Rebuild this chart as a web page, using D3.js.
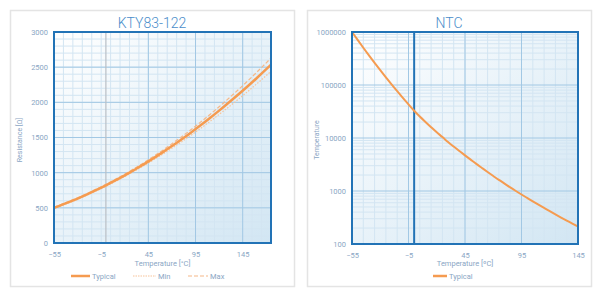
<!DOCTYPE html>
<html lang="en">
<head>
<meta charset="UTF-8">
<title>KTY83-122 / NTC</title>
<style>
  body { margin: 0; background: #fff; }
  svg text { font-family: Roboto, "Open Sans", sans-serif; }
</style>
</head>
<body>
<svg id="chart" width="600" height="296"></svg>
<script src="https://cdn.jsdelivr.net/npm/d3@7"></script>
<script>
// KTY83-122 resistance vs temperature
var ktyTemps = [-55, -50, -40, -30, -20, -10, 0, 10, 20, 25, 30, 40, 50, 60, 70, 80, 90, 100, 110, 120, 125, 130, 140, 150, 160, 170, 175];
var ktyTypical = [500, 525, 577, 632, 691, 754, 820, 889, 962, 1000, 1039, 1118, 1202, 1288, 1379, 1472, 1569, 1670, 1774, 1882, 1937, 1993, 2107, 2225, 2346, 2471, 2535];
var ktyMin = [490, 515, 567, 621, 680, 742, 806, 874, 945, 982, 1020, 1097, 1178, 1261, 1348, 1437, 1530, 1626, 1725, 1828, 1880, 1932, 2040, 2150, 2264, 2381, 2440];
var ktyMax = [510, 535, 587, 643, 703, 767, 834, 905, 980, 1019, 1059, 1140, 1227, 1316, 1411, 1508, 1609, 1715, 1824, 1937, 1995, 2055, 2175, 2300, 2429, 2562, 2630];
var ktyYTicks = [0, 500, 1000, 1500, 2000, 2500, 3000];
var ktyXMajor = [45, 95, 145];

// NTC resistance vs temperature (log scale)
var ntcTemps = [-55, -50, -45, -40, -35, -30, -25, -20, -15, -10, -5, 0, 5, 10, 15, 20, 25, 30, 35, 40, 45, 50, 55, 60, 65, 70, 75, 80, 85, 90, 95, 100, 105, 110, 115, 120, 125, 130, 135, 140, 145];
var ntcTypical = [1000000, 708000, 505000, 362000, 262000, 191000, 140000, 103000, 76600, 57300, 43200, 32700, 25400, 20100, 16000, 12800, 10400, 8410, 6890, 5680, 4710, 3910, 3250, 2720, 2280, 1920, 1620, 1380, 1170, 1000, 859, 740, 638, 552, 479, 416, 362, 316, 277, 243, 213];
var ntcYTicks = [100, 1000, 10000, 100000, 1000000];
var ntcXMajor = [-5, 45, 95];

var xTicks = [-55, -5, 45, 95, 145];

var orange = "#f59b50",
    frameBlue = "#2273b6",
    minorGrid = "#d3e5f2",
    majorGrid = "#a2c8e4",
    tickColor = "#8aa6c4",
    titleColor = "#4a8dca";

var svg = d3.select("#chart");
var defs = svg.append("defs");
var grad = defs.append("linearGradient")
    .attr("id", "plotbg")
    .attr("x1", 0).attr("y1", 0).attr("x2", 1).attr("y2", 1);
grad.append("stop").attr("offset", "0%").attr("stop-color", "#ffffff");
grad.append("stop").attr("offset", "100%").attr("stop-color", "#d2e6f3");

function panel(opt) {
    // card
    svg.append("rect")
        .attr("x", opt.card[0] + 0.5).attr("y", opt.card[1] + 0.5)
        .attr("width", opt.card[2]).attr("height", opt.card[3])
        .attr("fill", "#fff").attr("stroke", "#e4e4e4").attr("stroke-width", 1.5);

    svg.append("text")
        .attr("x", opt.card[0] + opt.card[2] / 2).attr("y", 28)
        .attr("text-anchor", "middle")
        .attr("fill", titleColor)
        .attr("font-size", 14)
        .attr("font-weight", 300)
        .text(opt.title);

    var m = opt.plot;
    var x = d3.scaleLinear().domain(opt.xDomain).range([m.left, m.right]);
    var y = opt.y.range([m.bottom, m.top]);

    var g = svg.append("g");
    g.append("rect")
        .attr("x", m.left).attr("y", m.top)
        .attr("width", m.right - m.left).attr("height", m.bottom - m.top)
        .attr("fill", "url(#plotbg)");

    // minor grid
    g.selectAll(".vmin").data(opt.xMinor).enter().append("line")
        .attr("x1", function(d) { return x(d); }).attr("x2", function(d) { return x(d); })
        .attr("y1", m.top).attr("y2", m.bottom)
        .attr("stroke", minorGrid).attr("stroke-width", 1);
    g.selectAll(".hmin").data(opt.yMinor).enter().append("line")
        .attr("y1", function(d) { return y(d); }).attr("y2", function(d) { return y(d); })
        .attr("x1", m.left).attr("x2", m.right)
        .attr("stroke", minorGrid).attr("stroke-width", 1);
    // major grid
    g.selectAll(".vmaj").data(opt.xMajor).enter().append("line")
        .attr("x1", function(d) { return x(d); }).attr("x2", function(d) { return x(d); })
        .attr("y1", m.top).attr("y2", m.bottom)
        .attr("stroke", majorGrid).attr("stroke-width", 1);
    g.selectAll(".hmaj").data(opt.yTicks).enter().append("line")
        .attr("y1", function(d) { return y(d); }).attr("y2", function(d) { return y(d); })
        .attr("x1", m.left).attr("x2", m.right)
        .attr("stroke", majorGrid).attr("stroke-width", 1);

    // zero line
    g.append("line")
        .attr("x1", x(0)).attr("x2", x(0)).attr("y1", m.top).attr("y2", m.bottom)
        .attr("stroke", opt.zeroColor).attr("stroke-width", opt.zeroWidth);

    // series
    opt.series.forEach(function(s) {
        var line = d3.line()
            .x(function(d, i) { return x(opt.xs[i]); })
            .y(function(d) { return y(d); })
            .curve(d3.curveMonotoneX);
        g.append("path")
            .attr("d", line(s.values))
            .attr("fill", "none")
            .attr("stroke", s.color)
            .attr("stroke-width", s.width)
            .attr("stroke-dasharray", s.dash || null);
    });

    // frame
    g.append("rect")
        .attr("x", m.left).attr("y", m.top)
        .attr("width", m.right - m.left).attr("height", m.bottom - m.top)
        .attr("fill", "none").attr("stroke", frameBlue).attr("stroke-width", 2);

    // axes
    var xAxis = svg.append("g")
        .attr("transform", "translate(0," + (m.bottom + 3) + ")")
        .call(d3.axisBottom(x).tickValues(xTicks).tickSize(0).tickPadding(6));
    var yAxis = svg.append("g")
        .attr("transform", "translate(" + (m.left - 4) + ",0)")
        .call(d3.axisLeft(y).tickValues(opt.yTicks).tickSize(0).tickPadding(2).tickFormat(d3.format("d")));
    [xAxis, yAxis].forEach(function(a) {
        a.select(".domain").remove();
        a.selectAll("text").attr("fill", tickColor).attr("font-size", 7.5)
            .attr("font-family", "Roboto, sans-serif");
    });

    svg.append("text")
        .attr("x", (m.left + m.right) / 2).attr("y", 266)
        .attr("text-anchor", "middle").attr("fill", tickColor).attr("font-size", 7.5)
        .text(opt.xLabel);
    svg.append("text")
        .attr("transform", "translate(" + opt.yLabelX + "," + opt.yLabelY + ") rotate(-90)")
        .attr("text-anchor", "middle").attr("fill", tickColor).attr("font-size", 7)
        .text(opt.yLabel);

    // legend
    opt.legend.forEach(function(l) {
        svg.append("line")
            .attr("x1", l.x).attr("x2", l.x + l.len).attr("y1", 276).attr("y2", 276)
            .attr("stroke", l.color).attr("stroke-width", l.width)
            .attr("stroke-dasharray", l.dash || null);
        svg.append("text")
            .attr("x", l.x + l.len + 2).attr("y", 278.5)
            .attr("fill", tickColor).attr("font-size", 7.5)
            .text(l.label);
    });
}

var ktyXMinor = d3.range(-55, 176, 10);
var ktyYMinor = d3.range(0, 3001, 100);

panel({
    card: [10, 10, 284, 276],
    title: "KTY83-122",
    plot: {left: 54, right: 271, top: 32, bottom: 243},
    xDomain: [-55, 175],
    y: d3.scaleLinear().domain([0, 3000]),
    yTicks: ktyYTicks,
    xMajor: ktyXMajor,
    xMinor: ktyXMinor,
    yMinor: ktyYMinor,
    zeroColor: "#b9bfc6", zeroWidth: 1.2,
    xs: ktyTemps,
    series: [
        {values: ktyMin, color: "#f8c49a", width: 1.2, dash: "1.5,1.5"},
        {values: ktyMax, color: "#f6b888", width: 1.2, dash: "4,2"},
        {values: ktyTypical, color: orange, width: 2.5}
    ],
    xLabel: "Temperature [°C]",
    yLabel: "Resistance [Ω]",
    yLabelX: 22, yLabelY: 140,
    legend: [
        {x: 71, len: 19, label: "Typical", color: orange, width: 2.5},
        {x: 133, len: 23, label: "Min", color: "#f8c49a", width: 1.2, dash: "1.5,1"},
        {x: 188, len: 20, label: "Max", color: "#f6b888", width: 1.2, dash: "4,2"}
    ]
});

var ntcXMinor = d3.range(-55, 146, 10);
var ntcYMinor = [];
[100, 1000, 10000, 100000].forEach(function(p) {
    d3.range(2, 10).forEach(function(k) { ntcYMinor.push(p * k); });
});

panel({
    card: [307, 10, 284, 276],
    title: "NTC",
    plot: {left: 352, right: 578, top: 32, bottom: 244},
    xDomain: [-55, 145],
    y: d3.scaleLog().domain([100, 1000000]),
    yTicks: ntcYTicks,
    xMajor: ntcXMajor,
    xMinor: ntcXMinor,
    yMinor: ntcYMinor,
    zeroColor: frameBlue, zeroWidth: 2,
    xs: ntcTemps,
    series: [
        {values: ntcTypical, color: orange, width: 2}
    ],
    xLabel: "Temperature [ºC]",
    yLabel: "Temperature",
    yLabelX: 319, yLabelY: 140,
    legend: [
        {x: 433, len: 14, label: "Typical", color: orange, width: 2.5}
    ]
});
</script>
</body>
</html>
